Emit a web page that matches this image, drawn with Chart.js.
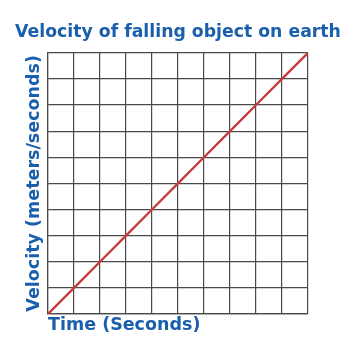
<!DOCTYPE html>
<html>
<head>
<meta charset="utf-8">
<script src="https://cdn.jsdelivr.net/npm/chart.js@4/dist/chart.umd.min.js"></script>
<style>
  html, body { margin: 0; padding: 0; background: #fff; }
  #wrap { width: 356px; height: 350px; }
</style>
</head>
<body>
<div id="wrap"><canvas id="grafico"></canvas></div>
<script>
const tiempo = [0, 1, 2, 3, 4, 5, 6, 7, 8, 9, 10];
const velocidad = [0, 1, 2, 3, 4, 5, 6, 7, 8, 9, 10];
const tituloGrafico = 'Velocity of falling object on earth';
const tituloX = 'Time (Seconds)';
const tituloY = 'Velocity (meters/seconds)';

const azul = '#1a5fab';
const rejilla = '#4a4a4a';

const ctx = document.getElementById('grafico').getContext('2d');
new Chart(ctx, {
  type: 'line',
  data: {
    datasets: [{
      data: tiempo.map((t, i) => ({ x: t, y: velocidad[i] })),
      borderColor: '#c63a3a',
      borderWidth: 2.3,
      pointRadius: 0,
      fill: false,
      tension: 0
    }]
  },
  options: {
    responsive: true,
    maintainAspectRatio: false,
    animation: false,
    layout: { padding: { left: 10, right: 10, top: 22, bottom: 14 } },
    plugins: {
      legend: { display: false },
      tooltip: { enabled: false },
      title: {
        display: true,
        text: tituloGrafico,
        color: azul,
        font: { family: 'DejaVu Sans', weight: 'bold', size: 17.3 },
        padding: { top: 0, bottom: 10 }
      }
    },
    scales: {
      x: {
        type: 'linear',
        min: 0,
        max: 10,
        ticks: { display: false, stepSize: 1 },
        grid: { color: rejilla, lineWidth: 1.2, drawTicks: false },
        border: { display: true, color: rejilla, width: 1.2 },
        title: { display: true, text: tituloX, color: azul, font: { family: 'DejaVu Sans', weight: 'bold', size: 17.5 }, align: 'start', padding: { top: 1, bottom: 0 } }
      },
      y: {
        type: 'linear',
        min: 0,
        max: 10,
        ticks: { display: false, stepSize: 1 },
        grid: { color: rejilla, lineWidth: 1.2, drawTicks: false },
        border: { display: true, color: rejilla, width: 1.2 },
        title: { display: true, text: tituloY, color: azul, font: { family: 'DejaVu Sans', weight: 'bold', size: 17.5 }, padding: { top: 14, bottom: 2 } },
        afterFit: s => { s.width = 38; }
      },
      derecha: {
        type: 'linear',
        position: 'right',
        min: 0,
        max: 10,
        ticks: { display: false },
        grid: { display: false },
        border: { display: false },
        afterFit: s => { s.width = 38; }
      }
    }
  }
});
</script>
</body>
</html>
